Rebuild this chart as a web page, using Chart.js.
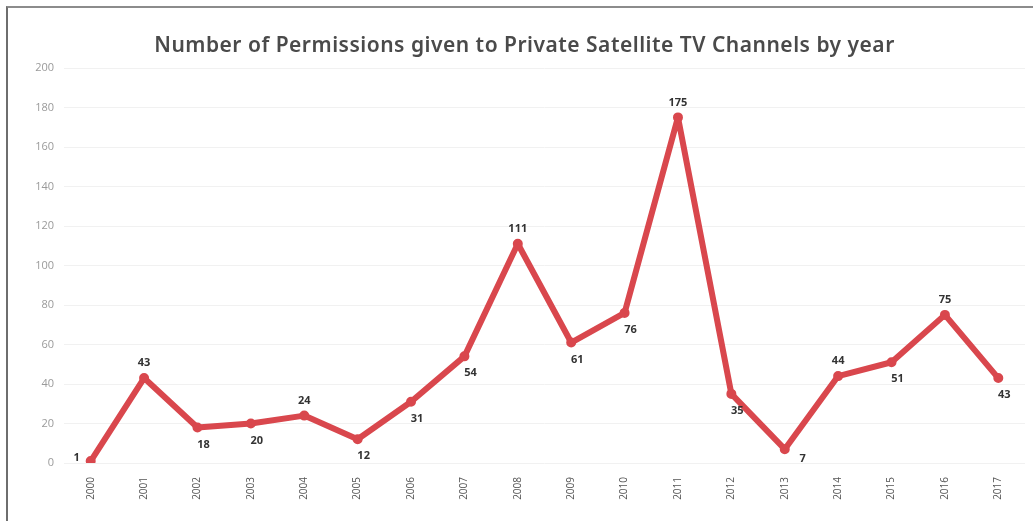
<!DOCTYPE html>
<html>
<head>
<meta charset="utf-8">
<script src="https://cdn.jsdelivr.net/npm/chart.js@4"></script>
<style>
  body { margin: 0; background: #fff; }
  #frame {
    position: absolute; left: 6px; top: 6px; width: 1027px; height: 515px;
    border-top: 2px solid #8c8c8c; border-left: 2px solid #6e6e6e;
  }
  #chart { display: block; }
</style>
</head>
<body>
<div id="frame"><canvas id="chart" width="1025" height="513"></canvas></div>
<script>
// chart data
const years = ['2000','2001','2002','2003','2004','2005','2006','2007','2008',
               '2009','2010','2011','2012','2013','2014','2015','2016','2017'];
const permissions = [1, 43, 18, 20, 24, 12, 31, 54, 111, 61, 76, 175, 35, 7, 44, 51, 75, 43];
const yTicks = [0, 20, 40, 60, 80, 100, 120, 140, 160, 180, 200];
const chartTitle = 'Number of Permissions given to Private Satellite TV Channels by year';

// where each value label goes relative to its point
const labelSide = ['left','above','below','below','above','below','below','below','above',
                   'below','below','above','below','right','above','below','above','below'];

const titlePlugin = {
  id: 'titleText',
  afterDraw(chart) {
    const ctx = chart.ctx;
    ctx.save();
    ctx.font = '600 21px "Noto Sans"';
    ctx.letterSpacing = '0.5px';
    ctx.fillStyle = '#4a4a4a';
    ctx.textAlign = 'center';
    ctx.textBaseline = 'middle';
    ctx.fillText(chartTitle, chart.width / 2 + 4, 38);
    ctx.restore();
  }
};

const valueLabels = {
  id: 'valueLabels',
  afterDatasetsDraw(chart) {
    const ctx = chart.ctx;
    const pts = chart.getDatasetMeta(0).data;
    ctx.save();
    ctx.font = 'bold 11px "Open Sans"';
    ctx.fillStyle = '#333';
    ctx.textAlign = 'center';
    ctx.textBaseline = 'middle';
    pts.forEach((p, i) => {
      let x = p.x, y = p.y;
      const side = labelSide[i];
      if (side === 'above') y -= 15;
      else if (side === 'below') { y += 17; x += 6; }
      else if (side === 'left') { x -= 14; y -= 3; }
      else if (side === 'right') { x += 18; y += 10; }
      ctx.fillText(String(permissions[i]), x, y);
    });
    ctx.restore();
  }
};

new Chart(document.getElementById('chart'), {
  type: 'line',
  data: {
    labels: years,
    datasets: [{
      data: permissions,
      borderColor: '#d9474d',
      backgroundColor: '#d9474d',
      borderWidth: 6,
      borderJoinStyle: 'round',
      borderCapStyle: 'round',
      pointRadius: 2,
      pointHoverRadius: 2,
      tension: 0
    }]
  },
  options: {
    responsive: false,
    animation: false,
    layout: { padding: { top: 60, right: 8, bottom: 0, left: 0 } },
    plugins: { legend: { display: false }, tooltip: { enabled: false } },
    scales: {
      x: {
        offset: true,
        grid: { display: false },
        border: { display: false },
        ticks: {
          color: '#555',
          font: { size: 10, family: 'Open Sans' },
          minRotation: 90, maxRotation: 90,
          padding: 6
        },
        afterFit(scale) { scale.height = 58; }
      },
      y: {
        min: 0, max: 200,
        afterBuildTicks(scale) { scale.ticks = yTicks.map(v => ({ value: v })); },
        grid: { color: '#f1f1f1', drawTicks: false, lineWidth: 1 },
        border: { display: false },
        ticks: {
          color: '#9a9a9a',
          font: { size: 11, family: 'Open Sans' },
          padding: 10
        },
        afterFit(scale) { scale.width = 56; }
      }
    }
  },
  plugins: [titlePlugin, valueLabels]
});
</script>
</body>
</html>
